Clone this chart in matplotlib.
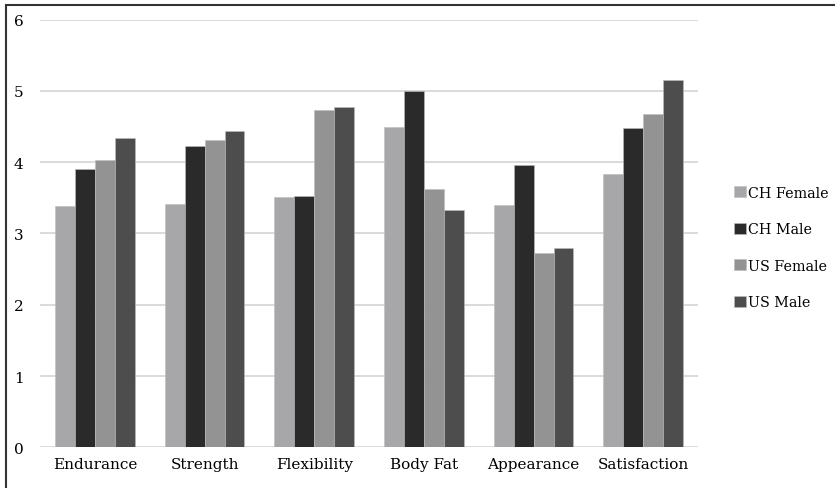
import matplotlib.pyplot as plt
import numpy as np
from matplotlib.patches import Rectangle

categories = ['Endurance', 'Strength', 'Flexibility', 'Body Fat', 'Appearance', 'Satisfaction']
series = ['CH Female', 'CH Male', 'US Female', 'US Male']
ch_female = [3.38, 3.41, 3.51, 4.49, 3.40, 3.83]
ch_male = [3.91, 4.23, 3.53, 5.00, 3.96, 4.48]
us_female = [4.03, 4.31, 4.73, 3.63, 2.72, 4.67]
us_male = [4.34, 4.44, 4.77, 3.33, 2.80, 5.15]
colors = ['#a7a7a9', '#2a2a2a', '#939393', '#4d4d4d']

plt.rcParams['font.family'] = ['DejaVu Serif']
plt.rcParams['font.size'] = 11

fig = plt.figure(figsize=(8.35, 4.89), dpi=100)
ax = fig.add_axes([0.048, 0.0832, 0.788, 0.8745])

x = np.arange(len(categories))
w = 0.182
data = [ch_female, ch_male, us_female, us_male]
for i, (vals, name) in enumerate(zip(data, series)):
    ax.bar(x + (i - 1.5) * w, vals, w, color=colors[i], label=name,
           edgecolor='#bdbdbd', linewidth=0.4, zorder=3)

ax.set_xlim(-0.5, len(categories) - 0.5)
ax.set_ylim(0, 6)
ax.set_yticks(range(7))
ax.set_xticks(x)
ax.set_xticklabels(categories)
ax.grid(axis='y', color='#d4d4d4', linewidth=1.2, zorder=0)
ax.grid(axis='x', visible=False)
for s in ax.spines.values():
    s.set_visible(False)
ax.tick_params(axis='y', length=0, pad=12)
ax.tick_params(axis='x', length=0, pad=7)

leg = ax.legend(loc='upper left', bbox_to_anchor=(0.871, 0.6325), bbox_transform=fig.transFigure,
                frameon=False, handlelength=0.8, handleheight=0.8, handletextpad=0.15,
                labelspacing=1.57, borderpad=0, fontsize=10.3)

fig.patches.append(Rectangle((6 / 835, -0.01), 1.0, 1 - 6 / 489 + 0.01, transform=fig.transFigure,
                             fill=False, edgecolor='#333333', linewidth=1.5))

fig.savefig('out.png', dpi=100)
